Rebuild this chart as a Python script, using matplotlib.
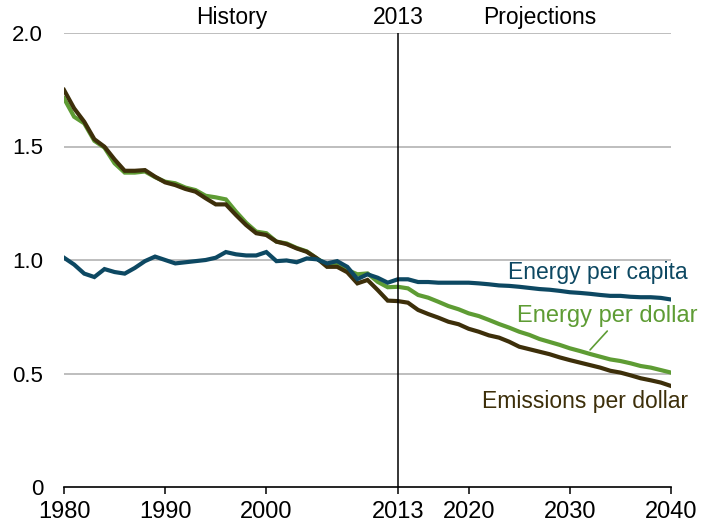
import matplotlib
matplotlib.use("Agg")
import matplotlib.pyplot as plt

plt.rcParams['font.family'] = ['Liberation Sans', 'DejaVu Sans']

years = list(range(1980, 2041))

energy_per_capita = [
    1.01, 0.98, 0.94, 0.925, 0.96, 0.947, 0.94, 0.965, 0.995, 1.015,  # 1980-1989
    1.0, 0.985, 0.99, 0.995, 1.0, 1.01, 1.035, 1.025, 1.02, 1.02,      # 1990-1999
    1.035, 0.995, 0.998, 0.99, 1.007, 1.003, 0.985, 0.995, 0.97, 0.916, # 2000-2009
    0.937, 0.922, 0.90, 0.915, 0.915, 0.903, 0.903, 0.90, 0.90, 0.90,  # 2010-2019
    0.90, 0.897, 0.893, 0.888, 0.886, 0.882, 0.877, 0.872, 0.869, 0.864, # 2020-2029
    0.858, 0.855, 0.851, 0.846, 0.842, 0.842, 0.838, 0.836, 0.836, 0.833, # 2030-2039
    0.826,                                                               # 2040
]

energy_per_dollar = [
    1.712, 1.631, 1.602, 1.525, 1.495, 1.426, 1.385, 1.385, 1.39, 1.365,
    1.345, 1.338, 1.319, 1.308, 1.283, 1.276, 1.267, 1.213, 1.164, 1.125,
    1.118, 1.081, 1.073, 1.053, 1.038, 1.007, 0.978, 0.978, 0.956, 0.937,
    0.941, 0.904, 0.880, 0.882, 0.875, 0.846, 0.834, 0.816, 0.797, 0.783,
    0.765, 0.753, 0.736, 0.718, 0.702, 0.684, 0.670, 0.652, 0.639, 0.626,
    0.611, 0.599, 0.586, 0.574, 0.562, 0.555, 0.545, 0.533, 0.526, 0.515,
    0.504,
]

emissions_per_dollar = [
    1.749, 1.668, 1.609, 1.532, 1.499, 1.443, 1.393, 1.393, 1.396, 1.367,
    1.342, 1.330, 1.313, 1.301, 1.272, 1.245, 1.245, 1.198, 1.154, 1.118,
    1.110, 1.081, 1.070, 1.051, 1.036, 1.007, 0.970, 0.970, 0.946, 0.897,
    0.912, 0.868, 0.821, 0.819, 0.812, 0.780, 0.762, 0.746, 0.728, 0.717,
    0.697, 0.684, 0.668, 0.658, 0.640, 0.618, 0.607, 0.596, 0.585, 0.571,
    0.559, 0.548, 0.537, 0.526, 0.512, 0.504, 0.492, 0.479, 0.470, 0.460,
    0.445,
]

x_ticks = [1980, 1990, 2000, 2013, 2020, 2030, 2040]
y_ticks = [0, 0.5, 1.0, 1.5, 2.0]
y_tick_labels = ["0", "0.5", "1.0", "1.5", "2.0"]
series_labels = ["Energy per capita", "Energy per dollar", "Emissions per dollar"]
top_labels = ["History", "2013", "Projections"]

c_blue = "#0d4862"
c_green = "#5e9c34"
c_brown = "#3d2f0a"

fig = plt.figure(figsize=(7.12, 5.29), dpi=100)
ax = fig.add_axes([64/712, 1 - 487/529, (671-64)/712, (487-33)/529])

ax.set_xlim(1980, 2040)
ax.set_ylim(0, 2.0)

for yv in y_ticks[1:]:
    ax.axhline(yv, color="#b3b3b3", lw=1.2, zorder=1)

ax.plot(years, energy_per_dollar, color=c_green, lw=3.0, zorder=2, solid_joinstyle="miter")
ax.plot(years, emissions_per_dollar, color=c_brown, lw=3.0, zorder=3, solid_joinstyle="miter")
ax.plot(years, energy_per_capita, color=c_blue, lw=3.0, zorder=4, solid_joinstyle="miter")

ax.axvline(2013, ymin=0, ymax=1, color="black", lw=1.1, zorder=5)

for s in ["top", "right", "left"]:
    ax.spines[s].set_visible(False)
ax.spines["bottom"].set_color("black")
ax.spines["bottom"].set_linewidth(1.2)
ax.spines["bottom"].set_zorder(6)

ax.set_xticks(x_ticks)
ax.set_xticklabels([str(v) for v in x_ticks])
ax.set_yticks(y_ticks)
ax.set_yticklabels(y_tick_labels)
ax.tick_params(axis="x", direction="out", length=5, width=1.1, color="black",
               labelsize=17, pad=5)
ax.tick_params(axis="y", length=0, labelsize=16, pad=15)

top_y = 2.018
ax.text(1996.6, top_y, top_labels[0], ha="center", va="bottom", fontsize=16.5)
ax.text(2013, top_y, top_labels[1], ha="center", va="bottom", fontsize=16.5)
ax.text(2027.0, top_y, top_labels[2], ha="center", va="bottom", fontsize=16.5)

ax.text(2041.6, 0.944, series_labels[0], color=c_blue, ha="right", va="center", fontsize=16.5, clip_on=False)
ax.text(2042.6, 0.752, series_labels[1], color=c_green, ha="right", va="center", fontsize=17, clip_on=False)
ax.text(2041.7, 0.375, series_labels[2], color=c_brown, ha="right", va="center", fontsize=16.5, clip_on=False)
ax.annotate("", xy=(2032.0, 0.604), xytext=(2033.7, 0.687),
            arrowprops=dict(arrowstyle="-", color=c_green, lw=1.2, shrinkA=0, shrinkB=0))

fig.savefig("out.png", dpi=100)
